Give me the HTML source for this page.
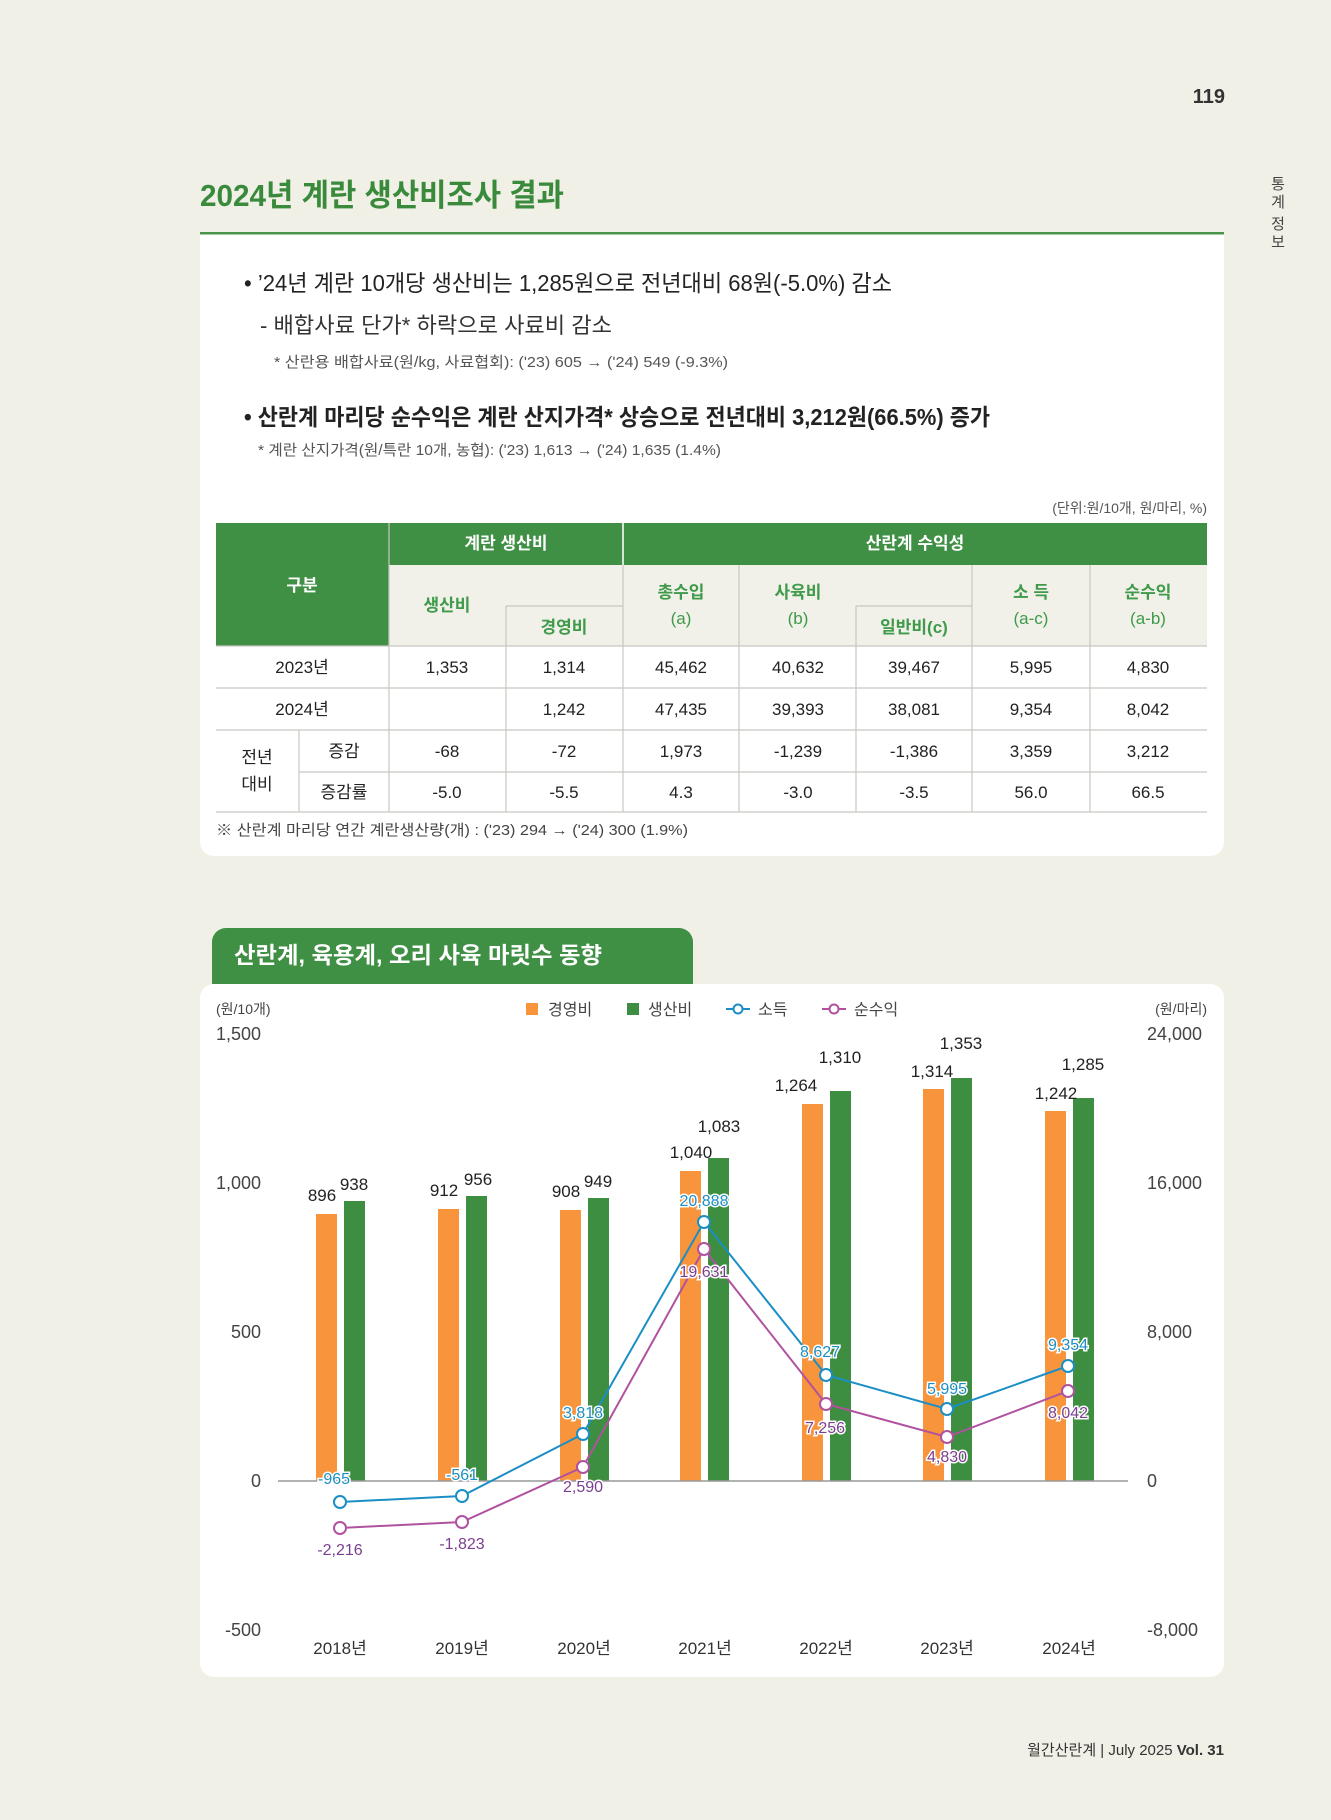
<!DOCTYPE html>
<html><head><meta charset="utf-8">
<style>
html,body{margin:0;padding:0;background:#f0f0e6;}
svg{display:block;font-family:"Liberation Sans","Noto Sans CJK KR",sans-serif;}
</style></head>
<body>
<svg width="1331" height="1820" viewBox="0 0 1331 1820" xmlns="http://www.w3.org/2000/svg">
<rect width="1331" height="1820" fill="#f0f0e6"/>
<text x="1225" y="103" font-size="20" font-weight="bold" fill="#333" text-anchor="end">119</text>
<g font-size="15" fill="#444" text-anchor="middle">
<text x="1278" y="189">통</text><text x="1278" y="207">계</text>
<text x="1278" y="229">정</text><text x="1278" y="247">보</text>
</g>
<text x="200" y="206" font-size="31" font-weight="bold" fill="#3a8a3c" textLength="364" lengthAdjust="spacingAndGlyphs">2024년 계란 생산비조사 결과</text>
<!-- card 1 -->
<path d="M200 233 H1224 V842 a14 14 0 0 1 -14 14 H214 a14 14 0 0 1 -14 -14 Z" fill="#fff"/>
<rect x="200" y="232" width="1024" height="2.5" fill="#4a934a"/>
<text x="244" y="291" font-size="23" fill="#222" textLength="648" lengthAdjust="spacingAndGlyphs">• ’24년 계란 10개당 생산비는 1,285원으로 전년대비 68원(-5.0%) 감소</text>
<text x="260" y="333" font-size="22" fill="#333" textLength="352" lengthAdjust="spacingAndGlyphs">- 배합사료 단가* 하락으로 사료비 감소</text>
<text x="274" y="367" font-size="15" fill="#555" textLength="454" lengthAdjust="spacingAndGlyphs">* 산란용 배합사료(원/kg, 사료협회): (ʹ23) 605 → (ʹ24) 549 (-9.3%)</text>
<text x="244" y="425" font-size="23" font-weight="bold" fill="#222" textLength="746" lengthAdjust="spacingAndGlyphs">• 산란계 마리당 순수익은 계란 산지가격* 상승으로 전년대비 3,212원(66.5%) 증가</text>
<text x="258" y="455" font-size="15" fill="#555" textLength="463" lengthAdjust="spacingAndGlyphs">* 계란 산지가격(원/특란 10개, 농협): (ʹ23) 1,613 → (ʹ24) 1,635 (1.4%)</text>
<text x="1207" y="513" font-size="14" fill="#555" text-anchor="end">(단위:원/10개, 원/마리, %)</text>
<!-- table -->
<rect x="216" y="523" width="991" height="123" fill="#f1f1e9"/>
<rect x="216" y="523" width="991" height="42" fill="#3f8f44"/>
<rect x="216" y="523" width="173" height="123" fill="#3f8f44"/>
<g stroke="#c8c8c0" stroke-width="1.2" fill="none">
<line x1="389" y1="523" x2="389" y2="812"/>
<line x1="623" y1="523" x2="623" y2="812"/>
<line x1="506" y1="606" x2="506" y2="812"/>
<line x1="739" y1="565" x2="739" y2="812"/>
<line x1="856" y1="606" x2="856" y2="812"/>
<line x1="972" y1="565" x2="972" y2="812"/>
<line x1="1090" y1="565" x2="1090" y2="812"/>
<line x1="299" y1="730" x2="299" y2="812"/>
<line x1="506" y1="606" x2="623" y2="606"/>
<line x1="856" y1="606" x2="972" y2="606"/>
<line x1="216" y1="646" x2="1207" y2="646"/>
<line x1="216" y1="688" x2="1207" y2="688"/>
<line x1="216" y1="730" x2="1207" y2="730"/>
<line x1="299" y1="772" x2="1207" y2="772"/>
<line x1="216" y1="812" x2="1207" y2="812"/>
</g>
<g stroke="#ffffff" stroke-width="1.5"><line x1="623" y1="523" x2="623" y2="565"/></g>
<g font-size="17" font-weight="bold" text-anchor="middle">
<text x="302" y="591" fill="#fff">구분</text>
<text x="506" y="549" fill="#fff">계란 생산비</text>
<text x="915" y="549" fill="#fff">산란계 수익성</text>
<g fill="#3f9a4a">
<text x="447" y="611">생산비</text>
<text x="564" y="633">경영비</text>
<text x="681" y="598">총수입</text><text x="681" y="624" font-weight="normal">(a)</text>
<text x="798" y="598">사육비</text><text x="798" y="624" font-weight="normal">(b)</text>
<text x="914" y="633">일반비(c)</text>
<text x="1031" y="598">소 득</text><text x="1031" y="624" font-weight="normal">(a-c)</text>
<text x="1148" y="598">순수익</text><text x="1148" y="624" font-weight="normal">(a-b)</text>
</g></g>
<g font-size="17" fill="#222" text-anchor="middle">
<text x="302" y="673">2023년</text><text x="447" y="673">1,353</text><text x="564" y="673">1,314</text><text x="681" y="673">45,462</text><text x="798" y="673">40,632</text><text x="914" y="673">39,467</text><text x="1031" y="673">5,995</text><text x="1148" y="673">4,830</text>
<text x="302" y="715">2024년</text><text x="564" y="715">1,242</text><text x="681" y="715">47,435</text><text x="798" y="715">39,393</text><text x="914" y="715">38,081</text><text x="1031" y="715">9,354</text><text x="1148" y="715">8,042</text>
<text x="257" y="763">전년</text><text x="257" y="790">대비</text>
<text x="344" y="757">증감</text><text x="447" y="757">-68</text><text x="564" y="757">-72</text><text x="681" y="757">1,973</text><text x="798" y="757">-1,239</text><text x="914" y="757">-1,386</text><text x="1031" y="757">3,359</text><text x="1148" y="757">3,212</text>
<text x="344" y="798">증감률</text><text x="447" y="798">-5.0</text><text x="564" y="798">-5.5</text><text x="681" y="798">4.3</text><text x="798" y="798">-3.0</text><text x="914" y="798">-3.5</text><text x="1031" y="798">56.0</text><text x="1148" y="798">66.5</text>
</g>
<text x="216" y="835" font-size="15" fill="#444" textLength="472" lengthAdjust="spacingAndGlyphs">※ 산란계 마리당 연간 계란생산량(개) : (ʹ23) 294 → (ʹ24) 300 (1.9%)</text>
<!-- section 2 -->
<path d="M212 984 V942 a14 14 0 0 1 14 -14 H679 a14 14 0 0 1 14 14 V984 Z" fill="#3f8f44"/>
<text x="234" y="963" font-size="23" font-weight="bold" fill="#fff" textLength="368" lengthAdjust="spacingAndGlyphs">산란계, 육용계, 오리 사육 마릿수 동향</text>
<rect x="200" y="984" width="1024" height="693" rx="14" fill="#fff"/>
<!-- axes labels -->
<g font-size="14" fill="#444">
<text x="216" y="1014">(원/10개)</text>
<text x="1207" y="1014" text-anchor="end">(원/마리)</text>
</g>
<g font-size="18" fill="#444">
<g text-anchor="end">
<text x="261" y="1040">1,500</text><text x="261" y="1189">1,000</text><text x="261" y="1338">500</text><text x="261" y="1487">0</text><text x="261" y="1636">-500</text>
</g>
<text x="1147" y="1040">24,000</text><text x="1147" y="1189">16,000</text><text x="1147" y="1338">8,000</text><text x="1147" y="1487">0</text><text x="1147" y="1636">-8,000</text>
</g>
<!-- legend -->
<g font-size="16" fill="#444">
<rect x="526" y="1003" width="12" height="12" fill="#f7943c"/><text x="548" y="1015">경영비</text>
<rect x="627" y="1003" width="12" height="12" fill="#3e8e41"/><text x="648" y="1015">생산비</text>
<line x1="726" y1="1009" x2="750" y2="1009" stroke="#1b8fc5" stroke-width="2"/><circle cx="738" cy="1009" r="4.5" fill="#fff" stroke="#1b8fc5" stroke-width="2"/><text x="758" y="1015">소득</text>
<line x1="822" y1="1009" x2="846" y2="1009" stroke="#b0529f" stroke-width="2"/><circle cx="834" cy="1009" r="4.5" fill="#fff" stroke="#b0529f" stroke-width="2"/><text x="854" y="1015">순수익</text>
</g>
<!-- bars: zero=1481, 0.298 px/unit -->
<g fill="#f7943c">
<rect x="316" y="1214" width="21" height="267"/>
<rect x="438" y="1209" width="21" height="272"/>
<rect x="560" y="1210" width="21" height="271"/>
<rect x="680" y="1171" width="21" height="310"/>
<rect x="802" y="1104" width="21" height="377"/>
<rect x="923" y="1089" width="21" height="392"/>
<rect x="1045" y="1111" width="21" height="370"/>
</g>
<g fill="#3e8e41">
<rect x="344" y="1201" width="21" height="280"/>
<rect x="466" y="1196" width="21" height="285"/>
<rect x="588" y="1198" width="21" height="283"/>
<rect x="708" y="1158" width="21" height="323"/>
<rect x="830" y="1091" width="21" height="390"/>
<rect x="951" y="1078" width="21" height="403"/>
<rect x="1073" y="1098" width="21" height="383"/>
</g>
<line x1="278" y1="1481" x2="1128" y2="1481" stroke="#999" stroke-width="1.5"/>
<g font-size="17" fill="#222" text-anchor="middle">
<text x="322" y="1201">896</text><text x="354" y="1190">938</text>
<text x="444" y="1196">912</text><text x="478" y="1185">956</text>
<text x="566" y="1197">908</text><text x="598" y="1187">949</text>
<text x="691" y="1158">1,040</text><text x="719" y="1132">1,083</text>
<text x="796" y="1091">1,264</text><text x="840" y="1063">1,310</text>
<text x="932" y="1077">1,314</text><text x="961" y="1049">1,353</text>
<text x="1056" y="1099">1,242</text><text x="1083" y="1070">1,285</text>
</g>
<!-- lines -->
<polyline points="340,1502 462,1496 583,1434 704,1222 826,1375 947,1409 1068,1366" fill="none" stroke="#1b8fc5" stroke-width="2"/>
<polyline points="340,1528 462,1522 583,1467 704,1249 826,1404 947,1437 1068,1391" fill="none" stroke="#b0529f" stroke-width="2"/>
<g fill="#fff" stroke="#1b8fc5" stroke-width="2">
<circle cx="340" cy="1502" r="6"/><circle cx="462" cy="1496" r="6"/><circle cx="583" cy="1434" r="6"/><circle cx="704" cy="1222" r="6"/><circle cx="826" cy="1375" r="6"/><circle cx="947" cy="1409" r="6"/><circle cx="1068" cy="1366" r="6"/>
</g>
<g fill="#fff" stroke="#b0529f" stroke-width="2">
<circle cx="340" cy="1528" r="6"/><circle cx="462" cy="1522" r="6"/><circle cx="583" cy="1467" r="6"/><circle cx="704" cy="1249" r="6"/><circle cx="826" cy="1404" r="6"/><circle cx="947" cy="1437" r="6"/><circle cx="1068" cy="1391" r="6"/>
</g>
<g font-size="16" text-anchor="middle" stroke="#fff" stroke-width="3" paint-order="stroke" fill="#1b8fc5">
<text x="334" y="1484">-965</text><text x="462" y="1480">-561</text><text x="583" y="1418">3,818</text><text x="704" y="1206">20,888</text><text x="820" y="1357">8,627</text><text x="947" y="1394">5,995</text><text x="1068" y="1350">9,354</text>
</g>
<g font-size="16" text-anchor="middle" stroke="#fff" stroke-width="3" paint-order="stroke" fill="#7a3f90">
<text x="340" y="1555">-2,216</text><text x="462" y="1549">-1,823</text><text x="583" y="1492">2,590</text><text x="704" y="1277">19,631</text><text x="825" y="1433">7,256</text><text x="947" y="1462">4,830</text><text x="1068" y="1418">8,042</text>
</g>
<g font-size="17" fill="#333" text-anchor="middle">
<text x="340" y="1654">2018년</text><text x="462" y="1654">2019년</text><text x="584" y="1654">2020년</text><text x="705" y="1654">2021년</text><text x="826" y="1654">2022년</text><text x="947" y="1654">2023년</text><text x="1069" y="1654">2024년</text>
</g>
<!-- footer -->
<text x="1224" y="1755" font-size="15" fill="#333" text-anchor="end">월간산란계  |  July 2025 <tspan font-weight="bold">Vol. 31</tspan></text>
</svg>
</body></html>
